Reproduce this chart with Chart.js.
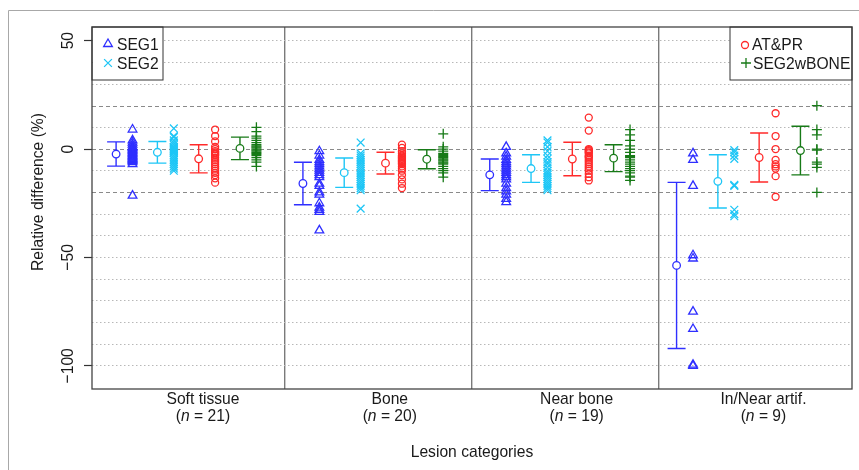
<!DOCTYPE html>
<html>
<head>
<meta charset="utf-8">
<script src="https://cdn.jsdelivr.net/npm/chart.js@4.4.1/dist/chart.umd.min.js"></script>
<style>
  html, body { margin: 0; padding: 0; background: #fff; }
</style>
</head>
<body>
<canvas id="chart" width="859" height="470"></canvas>
<script>
// ---------------------------------------------------------------------------
// Data
// ---------------------------------------------------------------------------
const categories = ['Soft tissue', 'Bone', 'Near bone', 'In/Near artif.'];
const groupSizes = [21, 20, 19, 9];

// relative difference (%) per lesion, one inner list per category
const seg1Values = [
    [9, 4, 3, 2, 1, 0.5, 0, -0.5, -1, -1.5, -2, -2.5, -3, -3.5, -4, -4.5, -5, -5.5, -6, -7, -21.5],
    [-1, -3, -5, -6, -7, -8, -9, -10, -11, -12, -13, -16, -17, -20, -21, -25, -27, -28, -29, -37.5],
    [1, -2, -3.5, -5, -6, -7, -8, -9, -10, -11, -12, -13, -14, -16, -18, -19.5, -21, -23, -24.5],
    [-2, -5, -17, -49, -50.5, -75, -83, -99.5, -100]
];
const seg2Values = [
    [9.5, 6, 5.5, 4, 3, 2, 1, 0.5, 0, -0.5, -1, -1.5, -2, -3, -4, -5, -6, -7, -8, -9, -10],
    [3, -2, -3, -4, -5, -6, -7, -8, -9, -10, -11, -12, -13, -14, -15, -16, -17, -18, -19, -27.5],
    [4, 3, 1, -1, -3, -4.5, -6, -7, -8.5, -10, -11, -12, -13, -14, -15, -16, -17, -18, -19],
    [-0.5, -1.5, -3, -4.5, -16.5, -17, -28, -30, -31]
];
const atprValues = [
    [9, 6, 3.5, 1, 0, -1, -1.5, -2, -2.5, -3, -4, -5, -6, -7, -8, -9, -10, -11, -12, -13.5, -15.5],
    [2, 0.5, -1, -2, -3, -3.5, -4, -4.5, -5, -5.5, -6, -6.5, -7, -8, -9, -10, -12, -14, -16, -18],
    [14.5, 8.5, 0, -0.5, -1, -1.5, -2, -3, -3.5, -4, -5, -6, -7, -8, -9, -10, -11.5, -13, -14.5],
    [16.5, 6, 0, -5, -7, -8, -9, -12.5, -22]
];
const segBoneValues = [
    [10, 8, 6, 5, 4, 3, 2, 1.5, 1, 0.5, 0, -0.5, -1, -1.5, -2, -2.5, -3, -4, -5, -6, -8],
    [7, 1, 0, -1, -2, -2.5, -3, -3.5, -4, -4.5, -5, -5.5, -6, -6.5, -7, -8, -9, -10, -11, -13],
    [9, 6.5, 4, 1.5, 0, -1.5, -3, -3.5, -4, -5, -6, -7, -8, -9, -10, -11, -12.5, -13, -14.5],
    [20, 9, 6.5, 0, -0.5, -6, -7, -8.5, -20]
];

// mean and standard deviation per category
const seg1Mean = [-2.3, -15.9, -11.9, -53.7];
const seg1Sd = [5.6, 9.8, 7.3, 38.3];
const seg2Mean = [-1.5, -10.9, -9.0, -14.9];
const seg2Sd = [5.0, 6.8, 6.4, 12.3];
const atprMean = [-4.5, -6.5, -4.6, -3.9];
const atprSd = [6.5, 5.0, 7.7, 11.3];
const segBoneMean = [0.3, -4.7, -4.2, -0.7];
const segBoneSd = [5.2, 4.4, 6.2, 11.2];

// axis ticks and reference lines
const yTickLabels = [50, 0, -50, -100];
const yGridValues = [50, 40, 30, 20, 10, 0, -10, -20, -30, -40, -50, -60, -70, -80, -90, -100];
const refLines = [20, 0, -20];
const panelDividers = [1, 2, 3];

// ---------------------------------------------------------------------------
// Layout / style
// ---------------------------------------------------------------------------
const FONT = '"Liberation Sans", Arial, Helvetica, sans-serif';
const TEXT_SIZE = 17;
const TEXT_SCALE = 0.92;      // the original lettering is slightly condensed
const METHOD_OFFSET = [0.095, 0.316, 0.537, 0.758]; // error bar x inside a panel
const POINT_SHIFT = 0.088;    // raw points sit right of their error bar
const LABEL_OFFSET = 0.56;
const CAP = 9;

const methods = [
    { label: 'SEG1', values: seg1Values, mean: seg1Mean, sd: seg1Sd, color: '#2f2fff', style: 'triangle', radius: 5 },
    { label: 'SEG2', values: seg2Values, mean: seg2Mean, sd: seg2Sd, color: '#1ec6f6', style: 'crossRot', radius: 5.5 },
    { label: 'AT&PR', values: atprValues, mean: atprMean, sd: atprSd, color: '#ff2a2a', style: 'circle', radius: 3.5 },
    { label: 'SEG2wBONE', values: segBoneValues, mean: segBoneMean, sd: segBoneSd, color: '#177a17', style: 'cross', radius: 5 }
];

const datasets = [];
methods.forEach((m, i) => {
    datasets.push({
        label: m.label,
        data: m.values.flatMap((vals, k) => vals.map(v => ({ x: k + METHOD_OFFSET[i] + POINT_SHIFT, y: v }))),
        pointStyle: m.style,
        pointRadius: m.radius,
        borderColor: m.color,
        backgroundColor: 'rgba(0,0,0,0)',
        pointBorderWidth: 1.3
    });
    datasets.push({
        label: m.label + ' mean',
        data: m.mean.map((v, k) => ({ x: k + METHOD_OFFSET[i], y: v })),
        pointStyle: 'circle',
        pointRadius: 3.8,
        borderColor: m.color,
        backgroundColor: '#ffffff',
        pointBorderWidth: 1.3
    });
});

// draw text, optionally rotated, with mixed italic parts
function drawText(ctx, parts, x, y, align, rotate) {
    ctx.save();
    ctx.translate(x, y);
    if (rotate) ctx.rotate(-Math.PI / 2);
    ctx.scale(TEXT_SCALE, 1);
    ctx.fillStyle = '#1a1a1a';
    ctx.textBaseline = 'middle';
    ctx.textAlign = 'left';
    const fonts = parts.map(p => (p.italic ? 'italic ' : '') + TEXT_SIZE + 'px ' + FONT);
    let total = 0;
    parts.forEach((p, i) => { ctx.font = fonts[i]; total += ctx.measureText(p.text).width; });
    let cx = align === 'center' ? -total / 2 : 0;
    parts.forEach((p, i) => {
        ctx.font = fonts[i];
        ctx.fillText(p.text, cx, 0);
        cx += ctx.measureText(p.text).width;
    });
    ctx.restore();
}

function legendMarker(ctx, m, x, y) {
    ctx.save();
    ctx.strokeStyle = m.color;
    ctx.fillStyle = 'rgba(0,0,0,0)';
    ctx.lineWidth = 1.3;
    Chart.helpers.drawPoint(ctx, { pointStyle: m.style, radius: m.radius, rotation: 0, borderWidth: 1.3 }, x, y);
    ctx.restore();
}

const panelPlugin = {
    id: 'panelPlugin',
    beforeDatasetsDraw(chart) {
        const { ctx, chartArea: a, scales: { x, y } } = chart;
        ctx.save();
        // dashed reference lines
        ctx.strokeStyle = '#8a8a8a';
        ctx.lineWidth = 1.1;
        ctx.setLineDash([4, 3]);
        refLines.forEach(v => {
            const py = Math.round(y.getPixelForValue(v)) + 0.5;
            ctx.beginPath();
            ctx.moveTo(a.left, py);
            ctx.lineTo(a.right, py);
            ctx.stroke();
        });
        ctx.setLineDash([]);
        // error bars (mean +/- sd)
        methods.forEach((m, i) => {
            ctx.strokeStyle = m.color;
            ctx.lineWidth = 1.4;
            m.mean.forEach((mu, k) => {
                const px = x.getPixelForValue(k + METHOD_OFFSET[i]);
                const hi = y.getPixelForValue(mu + m.sd[k]);
                const lo = y.getPixelForValue(mu - m.sd[k]);
                ctx.beginPath();
                ctx.moveTo(px, hi); ctx.lineTo(px, lo);
                ctx.moveTo(px - CAP, hi); ctx.lineTo(px + CAP, hi);
                ctx.moveTo(px - CAP, lo); ctx.lineTo(px + CAP, lo);
                ctx.stroke();
            });
        });
        ctx.restore();
    },
    afterDraw(chart) {
        const { ctx, chartArea: a, scales: { x, y } } = chart;
        ctx.save();
        // outer figure frame (top and left edges)
        ctx.strokeStyle = '#a8a8a8';
        ctx.lineWidth = 1;
        ctx.beginPath();
        ctx.moveTo(8.5, 470); ctx.lineTo(8.5, 10.5); ctx.lineTo(859, 10.5);
        ctx.stroke();

        // plot box
        ctx.strokeStyle = '#444';
        ctx.lineWidth = 1.3;
        ctx.strokeRect(a.left, a.top, a.right - a.left, a.bottom - a.top);

        // legends
        ctx.lineWidth = 1;
        ctx.strokeStyle = '#333';
        ctx.fillStyle = '#fff';
        ctx.fillRect(a.left + 1, a.top + 1, 70, 52);
        ctx.strokeRect(a.left, a.top, 71, 53);
        ctx.fillRect(a.right - 121, a.top + 1, 120, 52);
        ctx.strokeRect(a.right - 122, a.top, 122, 53);
        ctx.restore();

        legendMarker(ctx, methods[0], a.left + 16, a.top + 17);
        drawText(ctx, [{ text: 'SEG1' }], a.left + 25, a.top + 18, 'left');
        legendMarker(ctx, methods[1], a.left + 16, a.top + 36);
        drawText(ctx, [{ text: 'SEG2' }], a.left + 25, a.top + 37, 'left');
        legendMarker(ctx, methods[2], a.right - 107, a.top + 18);
        drawText(ctx, [{ text: 'AT&PR' }], a.right - 100, a.top + 18, 'left');
        legendMarker(ctx, methods[3], a.right - 106, a.top + 36);
        drawText(ctx, [{ text: 'SEG2wBONE' }], a.right - 99, a.top + 37, 'left');

        // y tick labels (vertical, R style)
        yTickLabels.forEach(v => {
            const txt = v < 0 ? '\u2212' + Math.abs(v) : String(v);
            drawText(ctx, [{ text: txt }], a.left - 24, y.getPixelForValue(v), 'center', true);
        });
        drawText(ctx, [{ text: 'Relative difference (%)' }], 38, 192, 'center', true);

        // category labels
        categories.forEach((c, k) => {
            const px = x.getPixelForValue(k + LABEL_OFFSET);
            drawText(ctx, [{ text: c }], px, a.bottom + 10, 'center');
            drawText(ctx, [{ text: '(' }, { text: 'n', italic: true }, { text: ' = ' + groupSizes[k] + ')' }],
                px, a.bottom + 27, 'center');
        });
        drawText(ctx, [{ text: 'Lesion categories' }], (a.left + a.right) / 2, 452, 'center');
    }
};

new Chart(document.getElementById('chart'), {
    type: 'scatter',
    data: { datasets },
    options: {
        responsive: false,
        animation: false,
        layout: { padding: { top: 27, right: 7, left: 0, bottom: 0 } },
        plugins: {
            legend: { display: false },
            tooltip: { enabled: false }
        },
        scales: {
            x: {
                type: 'linear',
                min: -0.034,
                max: 4.034,
                afterFit: s => { s.height = 81; },
                afterBuildTicks: s => { s.ticks = panelDividers.map(v => ({ value: v })); },
                grid: { color: '#7a7a7a', lineWidth: 1.4, drawTicks: false },
                border: { display: false },
                ticks: { display: false }
            },
            y: {
                min: -110.7,
                max: 56.3,
                afterFit: s => { s.width = 92; },
                afterBuildTicks: s => { s.ticks = yGridValues.map(v => ({ value: v })); },
                grid: {
                    color: c => (c.tick && refLines.includes(c.tick.value)) ? 'rgba(0,0,0,0)' : '#b8b8b8',
                    lineWidth: 1,
                    tickLength: 8,
                    tickWidth: 1.2,
                    tickColor: c => (c.tick && yTickLabels.includes(c.tick.value)) ? '#333' : 'rgba(0,0,0,0)'
                },
                border: { display: false, dash: [1.5, 2.5] },
                ticks: { display: false }
            }
        }
    },
    plugins: [panelPlugin]
});
</script>
</body>
</html>
